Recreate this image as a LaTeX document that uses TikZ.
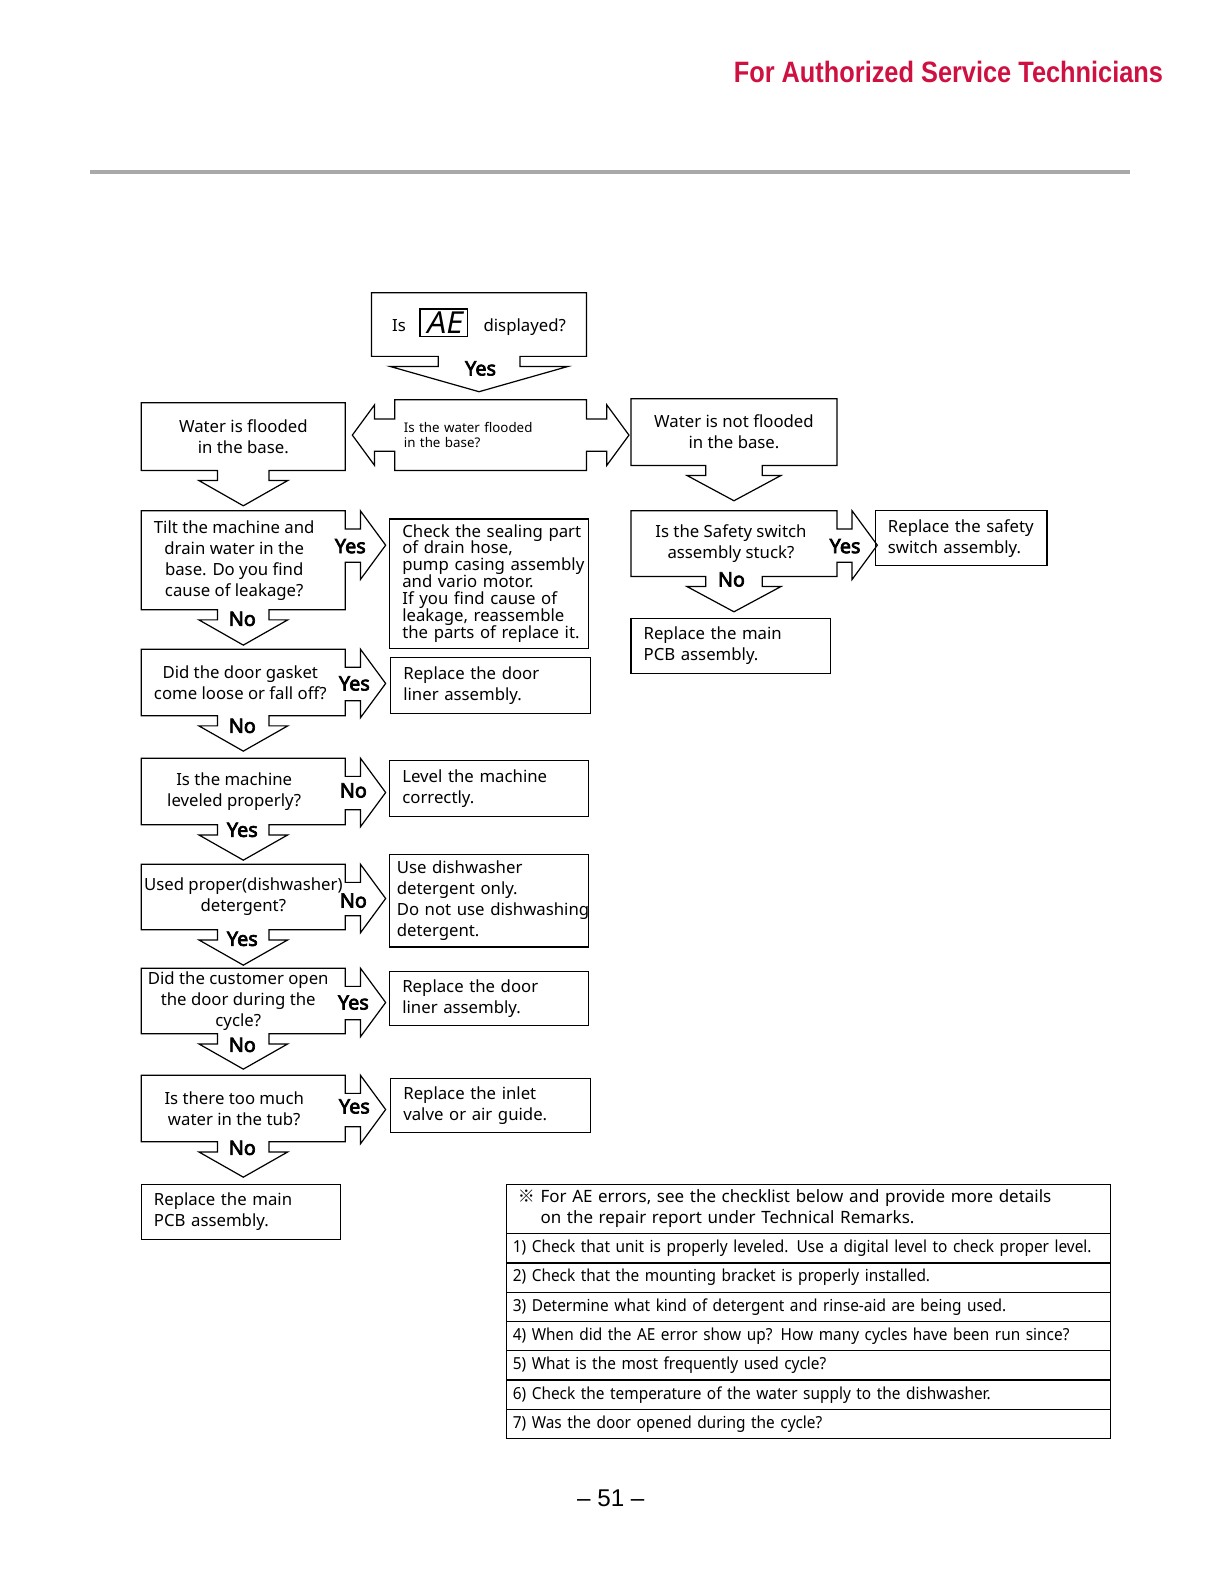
\documentclass[tikz,border=0pt]{standalone}
\usepackage{fontspec}
\setmainfont{Noto Sans}
\newfontfamily\titlefont[FakeStretch=0.86]{Liberation Sans}
\newfontfamily\pagefont{Liberation Sans}
\newfontfamily\checkfont[FakeStretch=0.93]{Noto Sans}
\newfontfamily\segfont[FakeSlant=0.2]{Noto Sans}
\newfontfamily\ynfamily[FakeBold=3.5]{Noto Sans}
\newfontfamily\cjk{Noto Sans CJK SC}
\usepackage{xcolor}
\usepackage{tikz}
\usetikzlibrary{positioning,calc}
\definecolor{lgred}{HTML}{CE1141}
\definecolor{rulegray}{HTML}{A9A9A9}

\newcommand{\boxfont}{\fontsize{8.3}{10.4}\selectfont}
\newcommand{\tightfont}{\fontsize{8.3}{8.4}\selectfont}
\newcommand{\smallfont}{\fontsize{6.6}{7.5}\selectfont}
\newcommand{\ynfont}{\ynfamily\fontsize{9.8}{11}\selectfont}
\newcommand{\rowfont}{\checkfont\fontsize{8.2}{10}\selectfont}
\newcommand{\headrowfont}{\fontsize{8.4}{10.5}\selectfont}
% stacked lines, centred or flush left, at exactly \baselineskip
\newcommand{\clines}[1]{\vbox{\lineskiplimit=-20pt\let\\\cr\halign{\hfil##\hfil\cr#1\crcr}}}
\newcommand{\llines}[1]{\vbox{\lineskiplimit=-20pt\let\\\cr\halign{##\hfil\cr#1\crcr}}}

% box with a block arrow going down (half shaft #2, half head #3)
\newcommand{\askdown}[3]{%
  \draw[frame] (#1.north west) -- (#1.north east) -- (#1.south east)
    -- ($(#1.south)+(#2,0)$) -- ++(0,10) -- ++(#3-#2,0) -- ++(-#3,25)
    -- ++(-#3,-25) -- ++(#3-#2,0) -- ++(0,-10) -- (#1.south west) -- cycle;}
% box with a block arrow to the right (top) and one going down
\newcommand{\askboth}[3]{%
  \draw[frame] (#1.north west) -- (#1.north east)
    -- ++(0,18) -- ++(15,0) -- ++(0,-18) -- ++(25,34) -- ++(-25,34) -- ++(0,-17) -- ++(-15,0)
    -- (#1.south east)
    -- ($(#1.south)+(#2,0)$) -- ++(0,10) -- ++(#3-#2,0) -- ++(-#3,25)
    -- ++(-#3,-25) -- ++(#3-#2,0) -- ++(0,-10) -- (#1.south west) -- cycle;}
% box with block arrows to both sides
\newcommand{\asksides}[1]{%
  \draw[frame] (#1.north west) -- (#1.north east)
    -- ++(0,19) -- ++(20,0) -- ++(0,-14) -- ++(22,30) -- ++(-22,30) -- ++(0,-14) -- ++(-20,0)
    -- (#1.south east) -- (#1.south west)
    -- ++(0,-19) -- ++(-20,0) -- ++(0,14) -- ++(-22,-30) -- ++(22,-30) -- ++(0,14) -- ++(20,0) -- cycle;}

\begin{document}
\begin{tikzpicture}[
        x=0.5pt, y=-0.5pt,
        every node/.style={inner sep=0pt, outer sep=0pt},
        qbox/.style={rectangle, minimum width=101pt, font=\boxfont},
        abox/.style={rectangle, draw, line width=0.6pt, anchor=north west, inner xsep=6.25pt, align=left, font=\boxfont},
        frame/.style={draw, line width=0.6pt, line join=miter},
        yn/.style={font=\ynfont},
        plain/.style={font=\boxfont, text height=6.2pt, text depth=1.8pt},
        hrow/.style={rectangle, draw, line width=0.6pt, anchor=north west, inner xsep=5.5pt, text width=288pt, minimum height=24.5pt, align=left, font=\headrowfont},
        crow/.style={rectangle, draw, line width=0.6pt, inner xsep=3pt, text width=293pt, minimum height=14.5pt, align=left, font=\rowfont}
    ]
        \useasboundingbox (0,0) rectangle (1207.5,1567);

        % Page header
        \node[font={\titlefont\bfseries\fontsize{14.6}{16}\selectfont}, text=lgred, anchor=base east] (title) at (1152,82) {For Authorized Service Technicians};
        \draw[rulegray, line width=2pt] (89,170) -- (1119,170);

        % Start
        \node[qbox, minimum width=106.5pt, minimum height=31.5pt] (start) at (474.5,321.5) {};
        \node[draw, line width=0.6pt, minimum width=23.5pt, minimum height=13.5pt, font={\segfont\fontsize{15}{15}\selectfont}] (ae) at (439.5,319.5) {AE};
        \node[plain, left=7pt of ae, yshift=-2pt] (is) {Is};
        \node[plain, right=8pt of ae, yshift=-2pt] (shown) {displayed?};
        \node[qbox, minimum width=95pt, minimum height=35pt, text width=86pt, inner xsep=4.5pt, align=left, font=\smallfont] (base) at (486,431) {\llines{Is the water flooded\\in the base?}};

        % Flooded branch
        \node[qbox, minimum height=33.5pt] (wet) at (241,432.5) {\clines{Water is flooded\\in the base.}};
        \node[qbox, minimum height=49pt, below=20pt of wet] (tilt) {\hspace*{-9pt}\clines{Tilt the machine and\\drain water in the\\base. Do you find\\cause of leakage?}};
        \node[qbox, minimum height=33pt, below=19.5pt of tilt] (gasket) {\hspace*{-3pt}\clines{Did the door gasket\\come loose or fall off?}};
        \node[qbox, minimum height=33pt, below=21pt of gasket] (level) {\hspace*{-9pt}\clines{Is the machine\\leveled properly?}};
        \node[qbox, minimum height=32.5pt, below=19.5pt of level] (soap) {\clines{Used proper(dishwasher)\\detergent?}};
        \node[qbox, minimum height=32.5pt, below=19pt of soap] (opened) {\hspace*{-5pt}\clines{Did the customer open\\the door during the\\cycle?}};
        \node[qbox, minimum height=33pt, below=20.5pt of opened] (excess) {\hspace*{-9pt}\clines{Is there too much\\water in the tub?}};
        \node[abox, text width=86pt, minimum height=27.5pt, below=21pt of excess.south west, anchor=north west] (pcbleft) {\llines{Replace the main\\PCB assembly.}};

        % Answers
        \node[abox, text width=86pt, minimum height=64pt, font=\tightfont] (seal) at (386,514) {\llines{Check the sealing part\\of drain hose,\\pump casing assembly\\and vario motor.\\If you find cause of\\leakage, reassemble\\the parts of replace it.}};
        \node[abox, text width=86.5pt, minimum height=28pt] (liner1) at (387,651) {\llines{Replace the door\\liner assembly.}};
        \node[abox, text width=86pt, minimum height=28pt] (levelfix) at (386,753) {\llines{Level the machine\\correctly.}};
        \node[abox, text width=91.5pt, inner xsep=3.5pt, minimum height=46pt] (soapfix) at (386,846) {\llines{Use dishwasher\\detergent only.\\Do not use dishwashing\\detergent.}};
        \node[abox, text width=86pt, minimum height=27pt] (liner2) at (386,962) {\llines{Replace the door\\liner assembly.}};
        \node[abox, text width=86.5pt, minimum height=27pt] (inlet) at (387,1068) {\llines{Replace the inlet\\valve or air guide.}};

        % Not flooded branch
        \node[qbox, minimum width=102pt, minimum height=33pt] (dry) at (727,428) {\clines{Water is not flooded\\in the base.}};
        \node[qbox, minimum width=102pt, minimum height=32.5pt, below=22.5pt of dry] (safety) {\hspace*{-3pt}\clines{Is the Safety switch\\assembly stuck?}};
        \node[abox, text width=72.5pt, minimum height=27pt] (safetyfix) at (867,506) {\llines{Replace the safety\\switch assembly.}};
        \node[abox, text width=86.5pt, minimum height=27pt, below=21pt of safety.south west, anchor=north west] (pcbright) {\llines{Replace the main\\PCB assembly.}};

        % Outlines with block arrows
        \askdown{start}{40.5}{88}
        \asksides{base}
        \askdown{wet}{25.5}{44}
        \askboth{tilt}{25.5}{44}
        \askboth{gasket}{25.5}{44}
        \askboth{level}{25.5}{44}
        \askboth{soap}{25.5}{44}
        \askboth{opened}{25.5}{44}
        \askboth{excess}{25.5}{44}
        \askdown{dry}{28}{46.5}
        \askboth{safety}{28}{46.5}

        % Yes / No
        \node[yn] (startyes) at ($(start.south)+(1.5,12)$) {Yes};
        \node[yn] (tiltyes) at ($(tilt.north east)+(5,35)$) {Yes};
        \node[yn] (tiltno) at ($(tilt.south)+(-1,9)$) {No};
        \node[yn] (gasketyes) at ($(gasket.north east)+(9,34)$) {Yes};
        \node[yn] (gasketno) at ($(gasket.south)+(-1,10)$) {No};
        \node[yn] (levelno) at ($(level.north east)+(8,32)$) {No};
        \node[yn] (levelyes) at ($(level.south)+(-1,5)$) {Yes};
        \node[yn] (soapno) at ($(soap.north east)+(8,36)$) {No};
        \node[yn] (soapyes) at ($(soap.south)+(-1,9)$) {Yes};
        \node[yn] (openedyes) at ($(opened.north east)+(8,34)$) {Yes};
        \node[yn] (openedno) at ($(opened.south)+(-1,11)$) {No};
        \node[yn] (excessyes) at ($(excess.north east)+(9,31)$) {Yes};
        \node[yn] (excessno) at ($(excess.south)+(-1,6)$) {No};
        \node[yn] (safetyyes) at ($(safety.north east)+(8,35)$) {Yes};
        \node[yn] (safetyno) at ($(safety.south)+(-2.5,3)$) {No};

        % Checklist
        \node[hrow] (chk0) at (502,1173) {{\cjk ※} For AE errors, see the checklist below and provide more details\\\phantom{{\cjk ※} }on the repair report under Technical Remarks.};
        \node[crow, below=0pt of chk0] (chk1) {1) Check that unit is properly leveled. Use a digital level to check proper level.};
        \node[crow, below=0pt of chk1] (chk2) {2) Check that the mounting bracket is properly installed.};
        \node[crow, below=0pt of chk2] (chk3) {3) Determine what kind of detergent and rinse-aid are being used.};
        \node[crow, below=0pt of chk3] (chk4) {4) When did the AE error show up? How many cycles have been run since?};
        \node[crow, below=0pt of chk4] (chk5) {5) What is the most frequently used cycle?};
        \node[crow, below=0pt of chk5] (chk6) {6) Check the temperature of the water supply to the dishwasher.};
        \node[crow, below=0pt of chk6] (chk7) {7) Was the door opened during the cycle?};

        % Page number
        \node[font={\pagefont\fontsize{12}{14}\selectfont}] (page) at (605,1484) {– 51 –};

    \end{tikzpicture}
\end{document}
